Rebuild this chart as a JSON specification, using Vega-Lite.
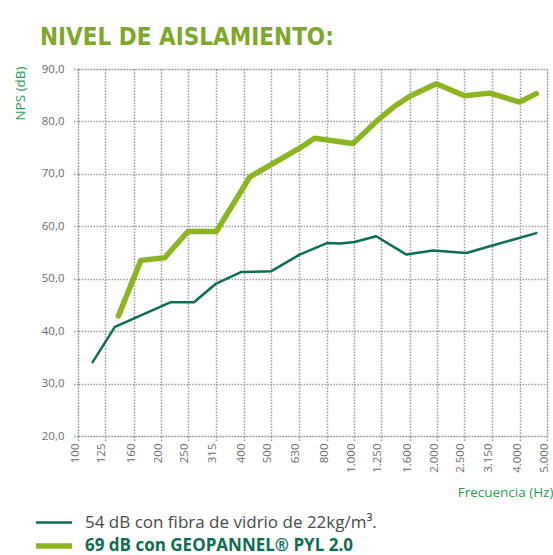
{
  "$schema": "https://vega.github.io/schema/vega-lite/v6.json",
  "width": 469,
  "height": 367,
  "autosize": "none",
  "padding": {"left": 78, "top": 69, "right": 6, "bottom": 119},
  "background": "white",
  "title": {
    "text": "NIVEL DE AISLAMIENTO:",
    "anchor": "start",
    "frame": "group",
    "dx": -38,
    "offset": -6,
    "font": "'DejaVu Sans Condensed', 'Liberation Sans Narrow', sans-serif",
    "fontSize": 24,
    "fontWeight": "bold",
    "color": "#80a62b",
    "baseline": "alphabetic"
  },
  "data": {
    "values": [
      {"serie": "54 dB con fibra de vidrio de 22kg/m³.", "frecuencia": 113, "nps": 34.1},
      {"serie": "54 dB con fibra de vidrio de 22kg/m³.", "frecuencia": 136, "nps": 40.8},
      {"serie": "54 dB con fibra de vidrio de 22kg/m³.", "frecuencia": 216, "nps": 45.5},
      {"serie": "54 dB con fibra de vidrio de 22kg/m³.", "frecuencia": 263, "nps": 45.5},
      {"serie": "54 dB con fibra de vidrio de 22kg/m³.", "frecuencia": 315, "nps": 49.0},
      {"serie": "54 dB con fibra de vidrio de 22kg/m³.", "frecuencia": 391, "nps": 51.3},
      {"serie": "54 dB con fibra de vidrio de 22kg/m³.", "frecuencia": 500, "nps": 51.4},
      {"serie": "54 dB con fibra de vidrio de 22kg/m³.", "frecuencia": 635, "nps": 54.6},
      {"serie": "54 dB con fibra de vidrio de 22kg/m³.", "frecuencia": 798, "nps": 56.8},
      {"serie": "54 dB con fibra de vidrio de 22kg/m³.", "frecuencia": 891, "nps": 56.7},
      {"serie": "54 dB con fibra de vidrio de 22kg/m³.", "frecuencia": 1005, "nps": 57.0},
      {"serie": "54 dB con fibra de vidrio de 22kg/m³.", "frecuencia": 1202, "nps": 58.1},
      {"serie": "54 dB con fibra de vidrio de 22kg/m³.", "frecuencia": 1549, "nps": 54.6},
      {"serie": "54 dB con fibra de vidrio de 22kg/m³.", "frecuencia": 1932, "nps": 55.4},
      {"serie": "54 dB con fibra de vidrio de 22kg/m³.", "frecuencia": 2553, "nps": 54.9},
      {"serie": "54 dB con fibra de vidrio de 22kg/m³.", "frecuencia": 3105, "nps": 56.2},
      {"serie": "54 dB con fibra de vidrio de 22kg/m³.", "frecuencia": 4571, "nps": 58.7},
      {"serie": "69 dB con GEOPANNEL® PYL 2.0", "frecuencia": 140, "nps": 42.9},
      {"serie": "69 dB con GEOPANNEL® PYL 2.0", "frecuencia": 169, "nps": 53.5},
      {"serie": "69 dB con GEOPANNEL® PYL 2.0", "frecuencia": 206, "nps": 54.0},
      {"serie": "69 dB con GEOPANNEL® PYL 2.0", "frecuencia": 250, "nps": 59.0},
      {"serie": "69 dB con GEOPANNEL® PYL 2.0", "frecuencia": 317, "nps": 59.0},
      {"serie": "69 dB con GEOPANNEL® PYL 2.0", "frecuencia": 419, "nps": 69.4},
      {"serie": "69 dB con GEOPANNEL® PYL 2.0", "frecuencia": 635, "nps": 74.9},
      {"serie": "69 dB con GEOPANNEL® PYL 2.0", "frecuencia": 719, "nps": 76.8},
      {"serie": "69 dB con GEOPANNEL® PYL 2.0", "frecuencia": 991, "nps": 75.8},
      {"serie": "69 dB con GEOPANNEL® PYL 2.0", "frecuencia": 1239, "nps": 80.6},
      {"serie": "69 dB con GEOPANNEL® PYL 2.0", "frecuencia": 1413, "nps": 83.0},
      {"serie": "69 dB con GEOPANNEL® PYL 2.0", "frecuencia": 1592, "nps": 84.8},
      {"serie": "69 dB con GEOPANNEL® PYL 2.0", "frecuencia": 1986, "nps": 87.2},
      {"serie": "69 dB con GEOPANNEL® PYL 2.0", "frecuencia": 2512, "nps": 84.9},
      {"serie": "69 dB con GEOPANNEL® PYL 2.0", "frecuencia": 3105, "nps": 85.4},
      {"serie": "69 dB con GEOPANNEL® PYL 2.0", "frecuencia": 3981, "nps": 83.7},
      {"serie": "69 dB con GEOPANNEL® PYL 2.0", "frecuencia": 4571, "nps": 85.3}
    ]
  },
  "mark": {"type": "line", "strokeJoin": "round", "strokeCap": "round"},
  "encoding": {
    "x": {
      "field": "frecuencia",
      "type": "quantitative",
      "scale": {"type": "log", "domain": [100, 5000], "nice": false},
      "axis": {
        "values": [100, 125, 160, 200, 250, 315, 400, 500, 630, 800, 1000, 1250, 1600, 2000, 2500, 3150, 4000, 5000],
        "labelExpr": "replace(format(datum.value, ','), ',', '.')",
        "labelAngle": -90,
        "labelFont": "Open Sans",
        "labelFontSize": 11.5,
        "labelColor": "#6b6b6b",
        "labelPadding": 2,
        "labelOffset": -3,
        "labelFlush": false,
        "labelOverlap": false,
        "tickSize": 5,
        "tickDash": [1.5, 1.5],
        "tickColor": "#9a9a9a",
        "tickWidth": 1.5,
        "domain": false,
        "grid": true,
        "gridDash": [1.5, 1.5],
        "gridColor": "#9a9a9a",
        "gridWidth": 1.5,
        "title": "Frecuencia (Hz)",
        "titleX": 475,
        "titleY": 56,
        "titleAlign": "right",
        "titleAnchor": null,
        "titleBaseline": "middle",
        "titleFont": "Open Sans",
        "titleFontSize": 13.5,
        "titleFontWeight": "normal",
        "titleColor": "#2a9d4f"
      }
    },
    "y": {
      "field": "nps",
      "type": "quantitative",
      "scale": {"domain": [20, 90], "nice": false, "zero": false},
      "axis": {
        "values": [20, 30, 40, 50, 60, 70, 80, 90],
        "labelExpr": "replace(format(datum.value, '.1f'), '.', ',')",
        "labelFont": "Open Sans",
        "labelFontSize": 11.5,
        "labelColor": "#6b6b6b",
        "labelPadding": 8,
        "labelFlush": false,
        "tickSize": 6,
        "tickDash": [1.5, 1.5],
        "tickColor": "#9a9a9a",
        "tickWidth": 1.5,
        "domain": false,
        "grid": true,
        "gridDash": [1.5, 1.5],
        "gridColor": "#9a9a9a",
        "gridWidth": 1.5,
        "title": "NPS (dB)",
        "titleX": -58,
        "titleY": 24,
        "titleAngle": -90,
        "titleAlign": "center",
        "titleAnchor": null,
        "titleBaseline": "middle",
        "titleFont": "Open Sans",
        "titleFontSize": 13.5,
        "titleFontWeight": "normal",
        "titleColor": "#2a9d4f"
      }
    },
    "color": {
      "field": "serie",
      "type": "nominal",
      "scale": {
        "domain": ["54 dB con fibra de vidrio de 22kg/m³.", "69 dB con GEOPANNEL® PYL 2.0"],
        "range": ["#0d6e52", "#8cb521"]
      },
      "legend": {
        "orient": "none",
        "legendX": -39,
        "legendY": 440,
        "title": null,
        "direction": "vertical",
        "symbolType": "M-1.5,0H1.5",
        "symbolSize": 576,
        "labelFont": "Open Sans",
        "labelFontSize": 17,
        "labelColor": "#4a4a4a",
        "labelLimit": 450,
        "labelOffset": 16,
        "rowPadding": 0,
        "padding": 0,
        "encode": {
          "symbols": {"update": {"strokeWidth": {"signal": "indexof(datum.value, 'GEOPANNEL') >= 0 ? 4 : 2"}}},
          "labels": {"update": {
            "fill": {"signal": "indexof(datum.value, 'GEOPANNEL') >= 0 ? '#0d6e52' : '#4a4a4a'"},
            "fontWeight": {"signal": "indexof(datum.value, 'GEOPANNEL') >= 0 ? 'bold' : 'normal'"}
          }}
        }
      }
    },
    "strokeWidth": {
      "field": "serie",
      "type": "nominal",
      "scale": {
        "domain": ["54 dB con fibra de vidrio de 22kg/m³.", "69 dB con GEOPANNEL® PYL 2.0"],
        "range": [2.5, 5.5]
      },
      "legend": null
    }
  }
}
